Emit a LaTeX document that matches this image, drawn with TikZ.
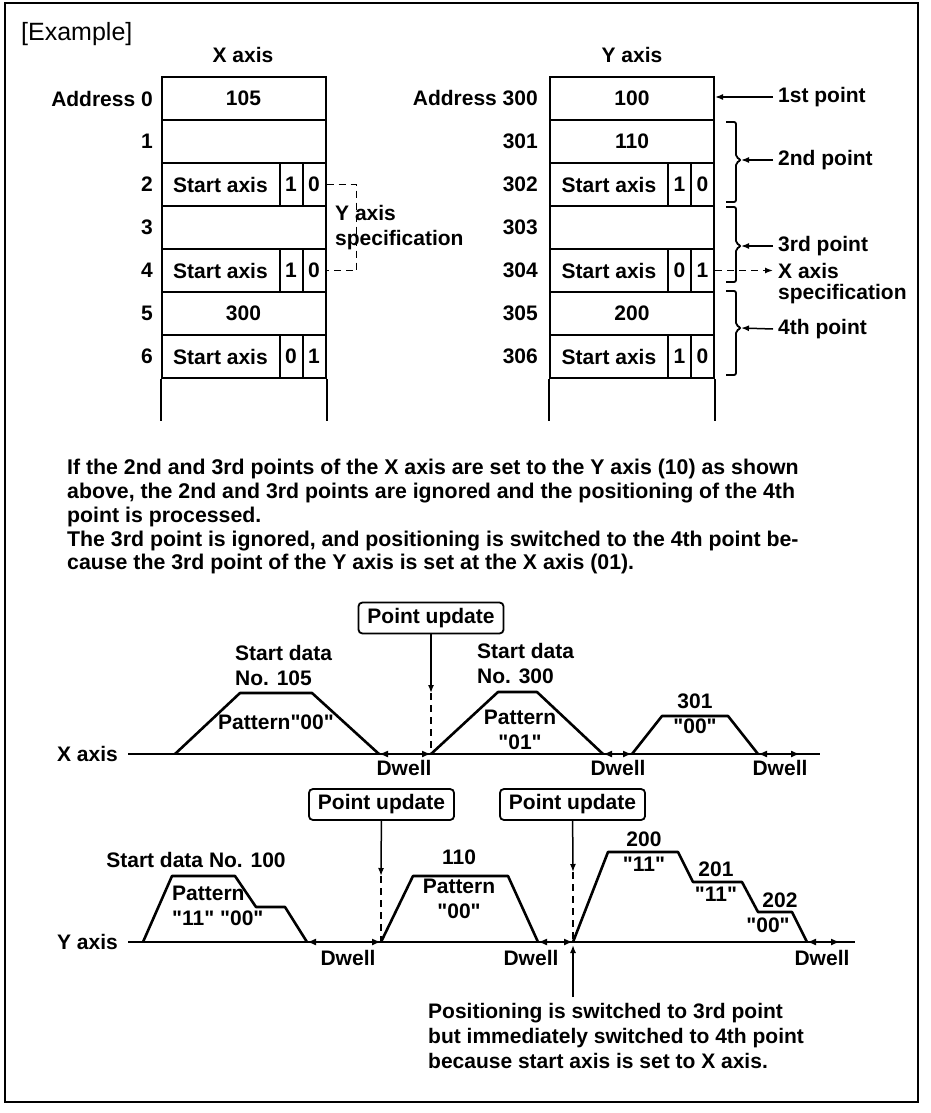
\documentclass[tikz,border=0pt]{standalone}
\usepackage{fontspec}
\setmainfont{Liberation Sans}[Ligatures=TeXOff]
\usetikzlibrary{arrows.meta,positioning,calc}

\begin{document}
\begin{tikzpicture}[x=1pt,y=-1pt,
every node/.style={font=\fontsize{21}{25}\selectfont\bfseries,inner sep=0pt},
cell/.style={draw,line width=2pt,minimum width=164pt,minimum height=43pt},
lab/.style={cell,minimum width=118pt},
bit/.style={cell,minimum width=23pt},
addr/.style={anchor=east},
ptlab/.style={anchor=west,inner xsep=5pt},
upd/.style={draw,line width=1.8pt,rounded corners=4pt,minimum height=31pt,inner xsep=9pt},
arr/.style={-{Latex[length=8pt,width=6pt]},line width=1.5pt},
dsh/.style={line width=1.8pt,dash pattern=on 7pt off 5pt},
dwell/.style={{Latex[length=9pt,width=7pt]}-{Latex[length=9pt,width=7pt]},line width=1.6pt},
prof/.style={line width=2.6pt,line join=round},
axisln/.style={line width=2pt},
brk/.style={line width=1.8pt,rounded corners=2pt}]
\useasboundingbox (0,0) rectangle (930,1113);
\draw[line width=2.5pt] (5,3) rectangle (918,1102);
\node[anchor=west,font=\fontsize{25}{30}\selectfont] (ex) at (21,34) {[Example]};
% address tables
\node (xt) at (243,55) {X axis};
\node (yt) at (632,55) {Y axis};
\foreach \n/\r/\v in {x0/0/105,x1/1/{},x3/3/{},x5/5/300}
  \node[cell] (\n) at (243.5,98.5+43*\r) {\v};
\foreach \n/\r/\a/\b in {x2/2/1/0,x4/4/1/0,x6/6/0/1}{
  \node[lab] (\n) at (220.5,98.5+43*\r) {Start axis};
  \node[bit] (\n-p) at (291,98.5+43*\r) {\a};
  \node[bit] (\n-q) at (314,98.5+43*\r) {\b};
}
\foreach \n/\r/\v in {y0/0/100,y1/1/110,y3/3/{},y5/5/200}
  \node[cell] (\n) at (632,98.5+43*\r) {\v};
\foreach \n/\r/\a/\b in {y2/2/1/0,y4/4/0/1,y6/6/1/0}{
  \node[lab] (\n) at (609,98.5+43*\r) {Start axis};
  \node[bit] (\n-p) at (679.5,98.5+43*\r) {\a};
  \node[bit] (\n-q) at (702.5,98.5+43*\r) {\b};
}
\foreach \r/\t in {0/Address 0,1/1,2/2,3/3,4/4,5/5,6/6}
  \node[addr] (xa\r) at (153,98.5+43*\r) {\t};
\foreach \r/\t in {0/Address 300,1/301,2/302,3/303,4/304,5/305,6/306}
  \node[addr] (ya\r) at (538,98.5+43*\r) {\t};
\draw[line width=2pt] (x6.south west) -- ++(0,42);
\draw[line width=2pt] (x6-q.south east) -- ++(0,42);
\draw[line width=2pt] (y6.south west) -- ++(0,42);
\draw[line width=2pt] (y6-q.south east) -- ++(0,42);
% start axis specification
\draw[dsh,line width=1.5pt] (x2-q.east) -- ++(30,0) |- (x4-q.east);
\node[anchor=west,align=left] (yspec) at (335,228) {Y axis\\specification};
\foreach \t/\m/\b/\n in {122/160/202/b2,207/246/282/b3,291/328/375/b4}{
  \draw[brk] (726,\t) -- (736,\t) -- (736,\m-3) -- (741,\m) -- (736,\m+3) -- (736,\b) -- (726,\b);
  \coordinate (\n) at (741,\m);
}
\node[ptlab] (p1) at (773,97) {1st point};
\node[ptlab] (p2) at (773,160) {2nd point};
\node[ptlab] (p3) at (773,246) {3rd point};
\node[ptlab] (p4) at (773,329) {4th point};
\node[ptlab] (xs) at (773,271) {X axis};
\node[ptlab] (xs2) at (773,294) {specification};
\draw[arr] (p1.west) -- (y0.east |- p1.west);
\draw[arr] (p2.west) -- (b2);
\draw[arr] (p3.west) -- (b3);
\draw[arr] (p4.west) -- (b4);
\draw[arr,dsh,line width=1.5pt] (y4-q.east) -- (xs.west |- y4-q.east);
% explanation
\node[anchor=north west,align=left,font=\fontsize{21.3}{23.8}\selectfont\bfseries] (txt) at (67,459)
  {If the 2nd and 3rd points of the X axis are set to the Y axis (10) as shown\\
   above, the 2nd and 3rd points are ignored and the positioning of the 4th\\
   point is processed.\\
   The 3rd point is ignored, and positioning is switched to the 4th point be-\\
   cause the 3rd point of the Y axis is set at the X axis (01).};
% X axis timing
\node[anchor=east] (xl) at (118,754) {X axis};
\coordinate (xe) at (820,754);
\draw[axisln] ([xshift=10pt]xl.east) -- (xe);
\node[upd] (pu1) at (431,618) {Point update};
\coordinate (d1) at (431,693);
\coordinate (c1) at (431,754);
\draw[arr] (pu1) -- (d1);
\draw[dsh] (d1) -- (c1);
\draw[prof] (175,754) -- (240,693) -- (312,693) -- (379,754);
\draw[prof] (c1) -- (498,692) -- (537,692) -- (603,754);
\draw[prof] (632,754) -- (662,716) -- (728,716) -- (758,754);
\draw[dwell] (379,754) -- (c1);
\draw[dwell] (603,754) -- (632,754);
\draw[dwell] (758,754) -- (800,754);
\node (dw1) at (404,768) {Dwell};
\node (dw2) at (618,768) {Dwell};
\node (dw3) at (780,768) {Dwell};
\node[anchor=west,align=left] (sd1) at (235,665) {Start data\\No. 105};
\node (pt1) at (276,722) {Pattern"00"};
\node[anchor=west,align=left] (sd2) at (477,664) {Start data\\No. 300};
\node[align=center] (pt2) at (520,730) {Pattern\\"01"};
\node[align=center] (pt3) at (695,714) {301\\"00"};
% Y axis timing
\node[anchor=east] (yl) at (118,942) {Y axis};
\coordinate (ye) at (855,942);
\draw[axisln] ([xshift=10pt]yl.east) -- (ye);
\node[upd] (pu2) at (381.5,804.5) {Point update};
\node[upd] (pu3) at (572.5,804.5) {Point update};
\coordinate (d2) at (381,876);
\coordinate (c2) at (381,942);
\coordinate (d3) at (573,872);
\coordinate (c3) at (573,942);
\draw[arr] (pu2) -- (d2);
\draw[dsh] (d2) -- (c2);
\draw[arr] (pu3) -- (d3);
\draw[dsh] (d3) -- (c3);
\draw[prof] (143,942) -- (172,876) -- (235,876) -- (256,907) -- (285,907) -- (307,942);
\draw[prof] (c2) -- (413,876) -- (508,876) -- (538,942);
\draw[prof] (c3) -- (608,852) -- (678,852) -- (693,882) -- (742,882) -- (758,912) -- (792,912) -- (807,942);
\draw[dwell] (307,942) -- (c2);
\draw[dwell] (538,942) -- (c3);
\draw[dwell] (807,942) -- (840,942);
\node (dw4) at (348,958) {Dwell};
\node (dw5) at (531,958) {Dwell};
\node (dw6) at (822,958) {Dwell};
\node (sd3) at (196,860) {Start data No. 100};
\node[anchor=west,align=left] (pt4) at (172,906) {Pattern\\"11" "00"};
\node[align=center] (pt5) at (459,884) {110\\[4pt]Pattern\\"00"};
\node[align=center] (n200) at (644,852) {200\\"11"};
\node[align=center] (n201) at (716,882) {201\\"11"};
\node (n202) at (780,900) {202};
\node (q202) at (768,925) {"00"};
\node[anchor=north west,align=left] (note) at (428,1003)
  {Positioning is switched to 3rd point\\
   but immediately switched to 4th point\\
   because start axis is set to X axis.};
\draw[arr] (note.north -| c3) ++(0,-6) -- ([yshift=-3pt]c3);
\end{tikzpicture}
\end{document}
